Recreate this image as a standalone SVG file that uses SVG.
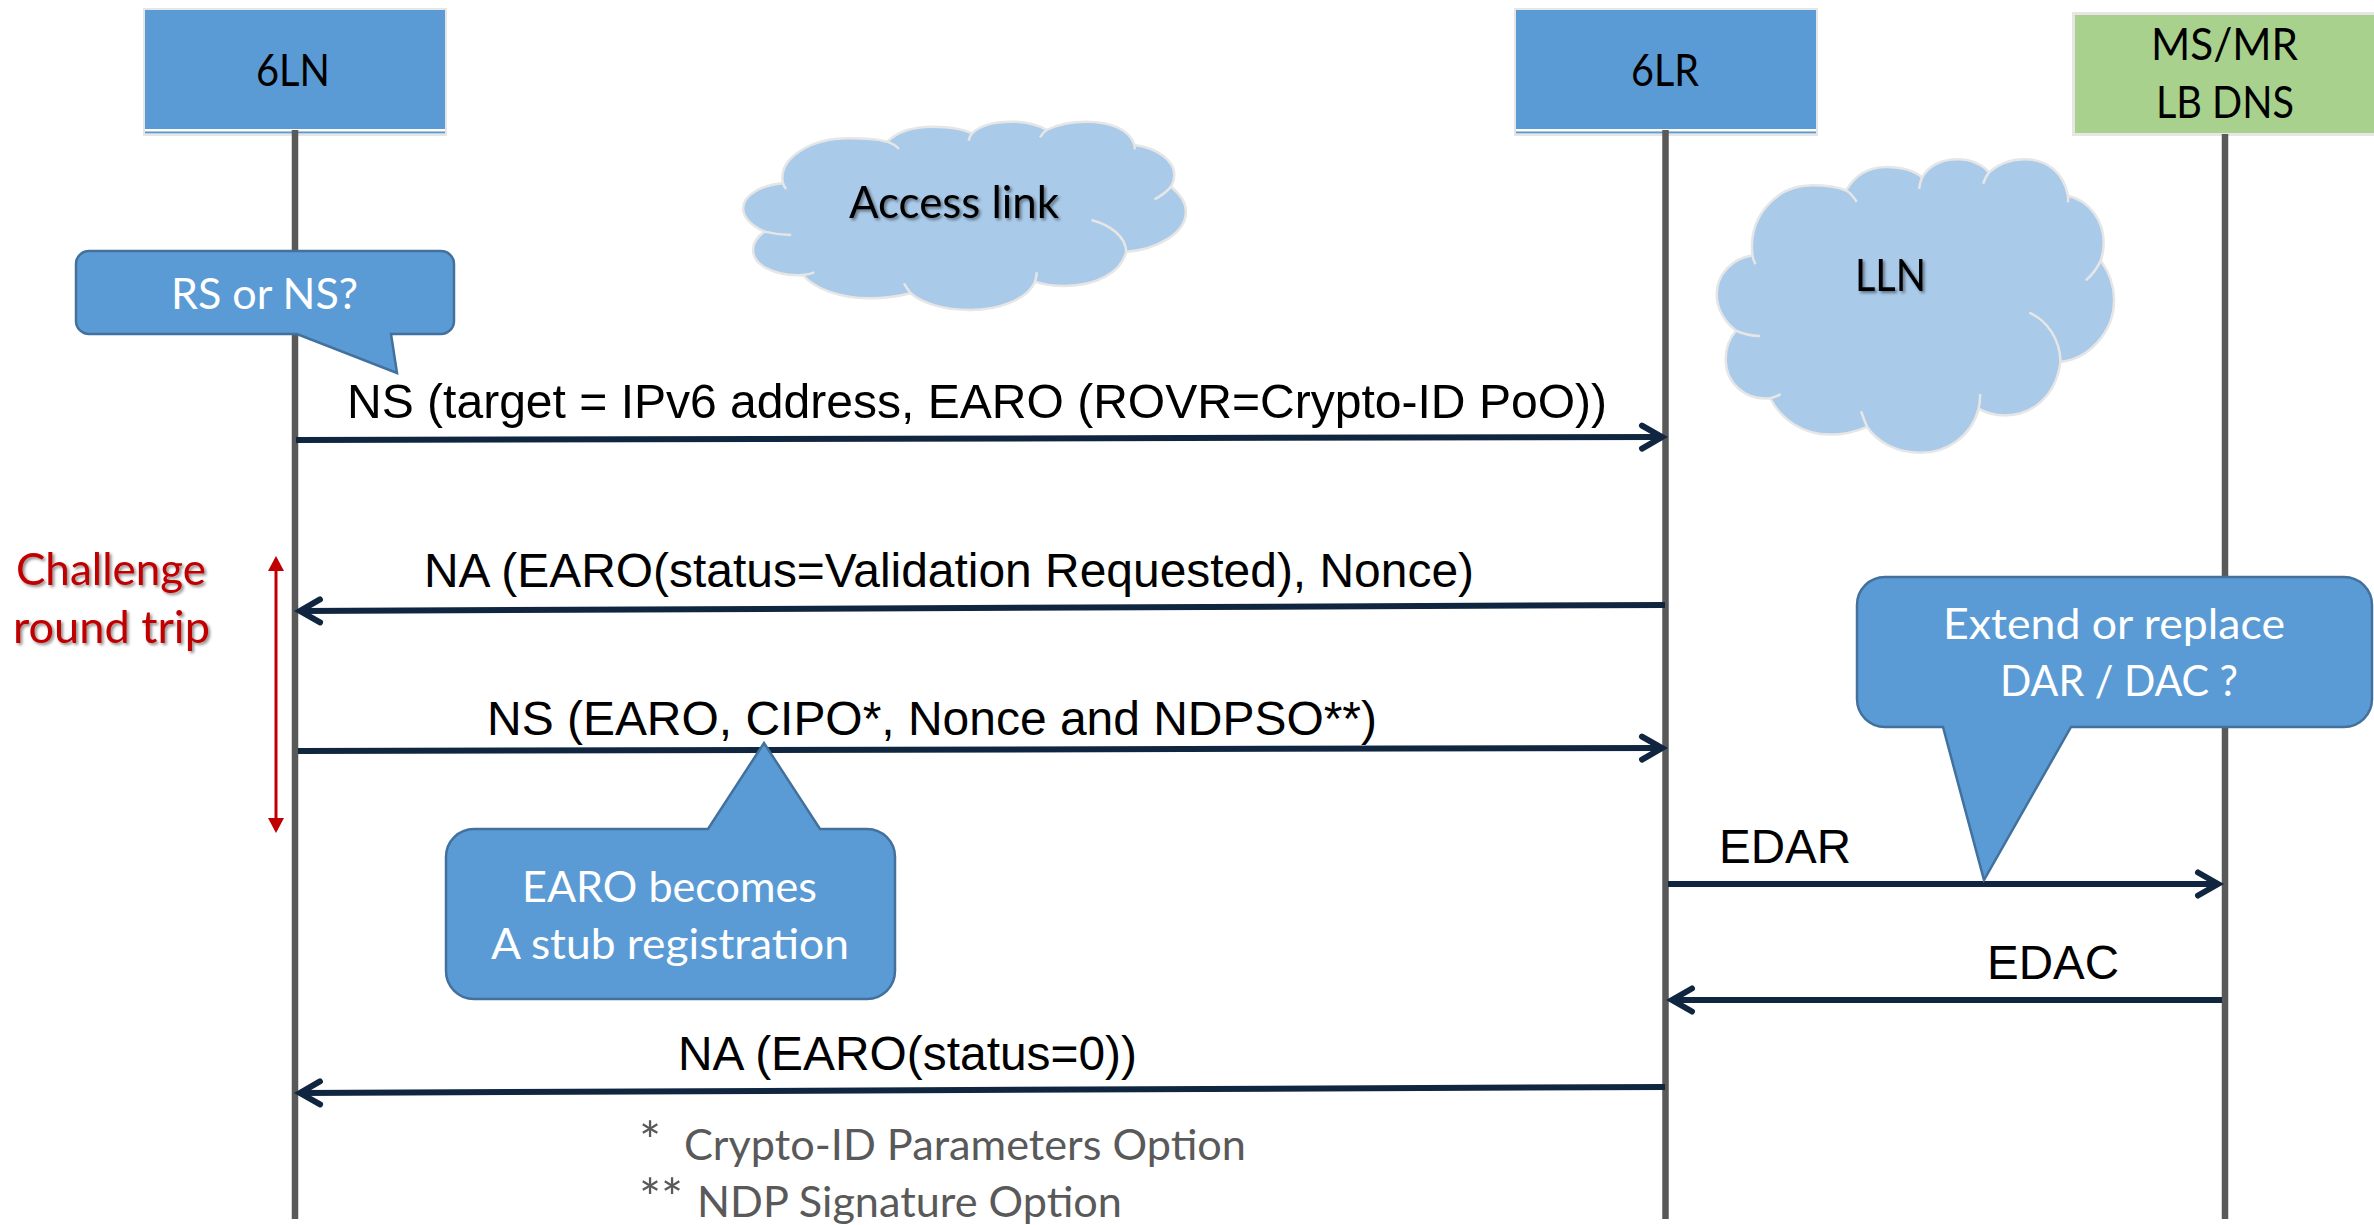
<svg xmlns="http://www.w3.org/2000/svg" width="2374" height="1225" viewBox="0 0 2374 1225">
<style>
.lbl{font-family:"Lato","Open Sans",sans-serif;font-size:44px;fill:#000}
.wht{font-family:"Lato","Open Sans",sans-serif;font-size:43px;fill:#fff}
.msg{font-family:"Liberation Sans",Arial,sans-serif;font-size:48px;fill:#000}
.red{font-family:"Lato","Open Sans",sans-serif;font-size:44px;fill:#C00000}
.note{font-family:"Lato","Open Sans",sans-serif;font-size:42px;fill:#595959}
.life{stroke:#595959;stroke-width:6.500;fill:none}
.arrow{stroke:#10253F;stroke-width:6;fill:none;marker-end:url(#head)}
.call{fill:#5B9BD5;stroke:#41719C;stroke-width:2.500;stroke-linejoin:miter}
.cl{fill:#A9CAE9;stroke:#E7E6E6;stroke-width:2.500;vector-effect:non-scaling-stroke}
.tick{fill:none;stroke:#E7E6E6;stroke-width:2.500;vector-effect:non-scaling-stroke}
.out{fill:#E7E6E6}.blue{fill:#5B9BD5}.band{fill:#fff}
</style>
<defs>
<marker id="head" markerUnits="userSpaceOnUse" markerWidth="40" markerHeight="40" refX="30" refY="20" orient="auto" viewBox="0 0 40 40" overflow="visible"><path d="M10 8.500L30 20L10 31.500" fill="none" stroke="#10253F" stroke-width="6" stroke-linecap="round" stroke-linejoin="miter"/></marker>
<marker id="rh" markerUnits="userSpaceOnUse" markerWidth="20" markerHeight="20" refX="12" refY="8" orient="auto-start-reverse" viewBox="0 0 20 20"><path d="M0 0L15 8L0 16Z" fill="#C00000"/></marker>
<filter id="sh" x="-10%" y="-20%" width="120%" height="150%"><feDropShadow dx="2" dy="2" stdDeviation="1.500" flood-color="#000" flood-opacity=".45"/></filter>
<g id="cloud">
<path class="cl" d="M250 310C235 235 330 175 450 175C495 175 535 178 565 185C600 150 650 140 700 140C750 140 790 145 820 160C850 130 900 125 940 125C985 125 1020 135 1045 150C1085 130 1125 125 1165 125C1240 125 1295 150 1310 195C1385 205 1430 245 1430 285C1430 295 1427 308 1420 320C1445 340 1465 365 1465 395C1465 460 1375 510 1285 515C1270 580 1190 618 1100 618C1065 618 1035 614 1010 605C985 660 900 690 815 690C735 690 670 670 635 640C595 650 555 655 510 655C420 655 345 625 310 585C225 590 160 555 160 510C160 490 172 470 195 455C160 440 130 415 130 385C130 345 185 315 250 310Z"/>
<path class="tick" d="M250 310Q252 318 260 327M565 185Q585 192 600 207M820 160Q813 168 810 182M1045 150Q1033 158 1025 172M1310 195Q1311 201 1310 208M1420 320Q1402 342 1370 358M1180 420C1240 436 1283 470 1285 515M1015 577Q1015 592 1010 605M635 640Q625 627 615 610M310 585Q328 583 345 577M195 455Q235 465 275 465"/>
</g>
</defs>

<g id="node-6ln">
<rect class="out" x="143" y="8" width="304" height="128"/>
<rect class="blue" x="145" y="10" width="300" height="119"/>
<rect class="band" x="145" y="129" width="300" height="2.500"/>
<rect class="blue" x="145" y="131.500" width="300" height="1.800"/>
<text class="lbl" x="256" y="86" textLength="74" lengthAdjust="spacingAndGlyphs">6LN</text>
</g>
<g id="node-6lr">
<rect class="out" x="1514" y="8" width="304" height="128"/>
<rect class="blue" x="1516" y="10" width="300" height="119"/>
<rect class="band" x="1516" y="129" width="300" height="2.500"/>
<rect class="blue" x="1516" y="131.500" width="300" height="1.800"/>
<text class="lbl" x="1631" y="86" textLength="68" lengthAdjust="spacingAndGlyphs">6LR</text>
</g>
<g id="node-ms">
<rect class="out" x="2072" y="12" width="310" height="124"/>
<rect x="2075" y="15" width="305" height="118" fill="#A9D18E"/>
<text class="lbl" x="2151" y="60" textLength="147" lengthAdjust="spacingAndGlyphs">MS/MR</text>
<text class="lbl" x="2156" y="118" textLength="138" lengthAdjust="spacingAndGlyphs">LB DNS</text>
</g>

<g id="connectors">
<line class="life" x1="295" y1="130" x2="295" y2="1219"/>
<line class="life" x1="1665.500" y1="130" x2="1665.500" y2="1219"/>
<line class="life" x1="2225" y1="134" x2="2225" y2="1219"/>
<line class="arrow" x1="296" y1="440" x2="1662" y2="437"/>
<line class="arrow" x1="1665" y1="605" x2="300" y2="611"/>
<line class="arrow" x1="298" y1="751" x2="1662" y2="748"/>
<line class="arrow" x1="1668" y1="884" x2="2218" y2="884"/>
<line class="arrow" x1="2222" y1="1000" x2="1672" y2="1000"/>
<line class="arrow" x1="1665" y1="1087" x2="300" y2="1093"/>
<line id="challenge-span" x1="276" y1="559" x2="276" y2="830" stroke="#C00000" stroke-width="3" marker-start="url(#rh)" marker-end="url(#rh)"/>
</g>

<g id="cloud-access">
<use href="#cloud" transform="translate(700 80) scale(.3317 .3333)"/>
<text class="lbl" x="849" y="218" textLength="210" lengthAdjust="spacingAndGlyphs" filter="url(#sh)">Access link</text>
</g>
<g id="cloud-lln">
<use href="#cloud" transform="translate(1678 97) scale(.2977 .5194) translate(0 -5)"/>
<text class="lbl" x="1855" y="291" textLength="71" lengthAdjust="spacingAndGlyphs" filter="url(#sh)">LLN</text>
</g>

<g id="callout-rs">
<path class="call" d="M89 251H441A13 13 0 0 1 454 264V321A13 13 0 0 1 441 334H391L397 373L297 334H89A13 13 0 0 1 76 321V264A13 13 0 0 1 89 251Z"/>
<text class="wht" x="171" y="309" textLength="187" lengthAdjust="spacingAndGlyphs">RS or NS?</text>
</g>
<g id="callout-stub">
<path class="call" d="M474 829H708L764 743L820 829H867A28 28 0 0 1 895 857V971A28 28 0 0 1 867 999H474A28 28 0 0 1 446 971V857A28 28 0 0 1 474 829Z"/>
<text class="wht" x="522" y="902" textLength="295" lengthAdjust="spacingAndGlyphs">EARO becomes</text>
<text class="wht" x="491" y="959" textLength="358" lengthAdjust="spacingAndGlyphs">A stub registration</text>
</g>
<g id="callout-dar">
<path class="call" d="M1885 577H2344A28 28 0 0 1 2372 605V699A28 28 0 0 1 2344 727H2071L1984 880L1943 727H1885A28 28 0 0 1 1857 699V605A28 28 0 0 1 1885 577Z"/>
<text class="wht" x="1943" y="639" textLength="342" lengthAdjust="spacingAndGlyphs">Extend or replace</text>
<text class="wht" x="2000" y="696" textLength="238" lengthAdjust="spacingAndGlyphs">DAR / DAC ?</text>
</g>

<g id="labels">
<text class="msg" x="347" y="418" textLength="1260" lengthAdjust="spacingAndGlyphs">NS (target = IPv6 address, EARO (ROVR=Crypto-ID PoO))</text>
<text class="msg" x="424" y="587" textLength="1050" lengthAdjust="spacingAndGlyphs">NA (EARO(status=Validation Requested), Nonce)</text>
<text class="msg" x="487" y="735" textLength="890" lengthAdjust="spacingAndGlyphs">NS (EARO, CIPO*, Nonce and NDPSO**)</text>
<text class="msg" x="1719" y="863" textLength="132" lengthAdjust="spacingAndGlyphs">EDAR</text>
<text class="msg" x="1987" y="979" textLength="132" lengthAdjust="spacingAndGlyphs">EDAC</text>
<text class="msg" x="678" y="1070" textLength="459" lengthAdjust="spacingAndGlyphs">NA (EARO(status=0))</text>
<text class="red" x="16" y="585" textLength="190" lengthAdjust="spacingAndGlyphs" filter="url(#sh)">Challenge</text>
<text class="red" x="13" y="643" textLength="197" lengthAdjust="spacingAndGlyphs" filter="url(#sh)">round trip</text>
<text class="note" y="1160"><tspan x="639" font-size="52">*</tspan><tspan x="684" textLength="562" lengthAdjust="spacingAndGlyphs">Crypto-ID Parameters Option</tspan></text>
<text class="note" y="1217"><tspan x="639" font-size="52">**</tspan><tspan x="697" textLength="425" lengthAdjust="spacingAndGlyphs">NDP Signature Option</tspan></text>
</g>
</svg>
